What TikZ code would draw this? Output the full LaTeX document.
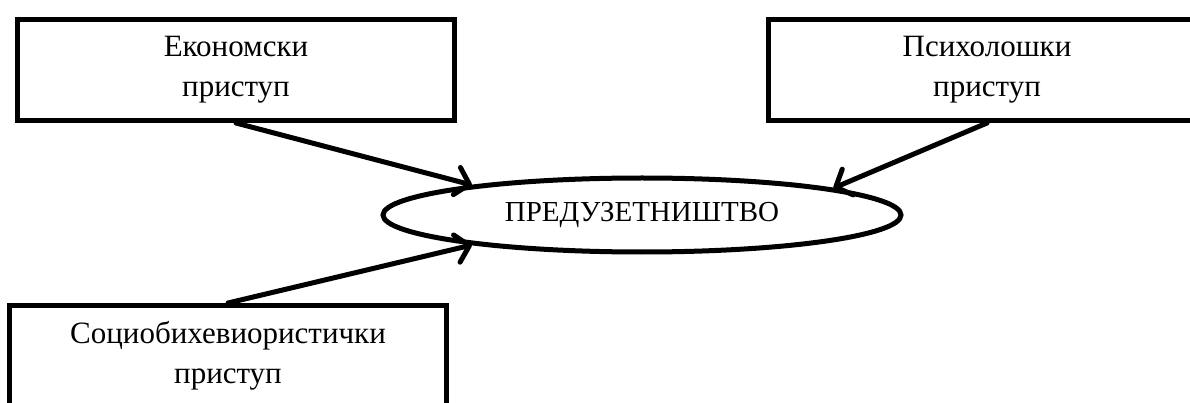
\documentclass[tikz,border=0pt]{standalone}
\usepackage{fontspec}
\setmainfont{Liberation Serif}
\usetikzlibrary{shapes.geometric,arrows.meta}
\begin{document}
\begin{tikzpicture}[x=1pt,y=-1pt,
  box/.style={draw,line width=5pt,minimum width=437pt,minimum height=101pt,align=center,inner sep=0pt,font=\fontsize{31}{40}\selectfont},
  oval/.style={draw,ellipse,line width=5pt,minimum width=518pt,minimum height=74pt,inner sep=0pt,font=\fontsize{29}{35}\selectfont},
  conn/.style={line width=5pt,line cap=round,-{Straight Barb[length=13pt,width=28pt,line width=5pt,round]}}
]
\useasboundingbox (0,0) rectangle (1190,403);
\clip (0,0) rectangle (1190,403);
\fill[white] (0,0) rectangle (1190,403);
\node[box,anchor=north] (econ) at (236,17) {Економски\\приступ};
\node[box,anchor=north] (psych) at (987,17) {Психолошки\\приступ};
\node[box,anchor=north] (socio) at (228,303) {Социобихевиористички\\приступ};
\node[oval] (pred) at (642,215) {ПРЕДУЗЕТНИШТВО};
\draw[conn] (econ.south) -- (pred.170);
\draw[conn] (psych.south) -- (pred.8);
\draw[conn] (socio.north) -- (pred.190);
\end{tikzpicture}
\end{document}
